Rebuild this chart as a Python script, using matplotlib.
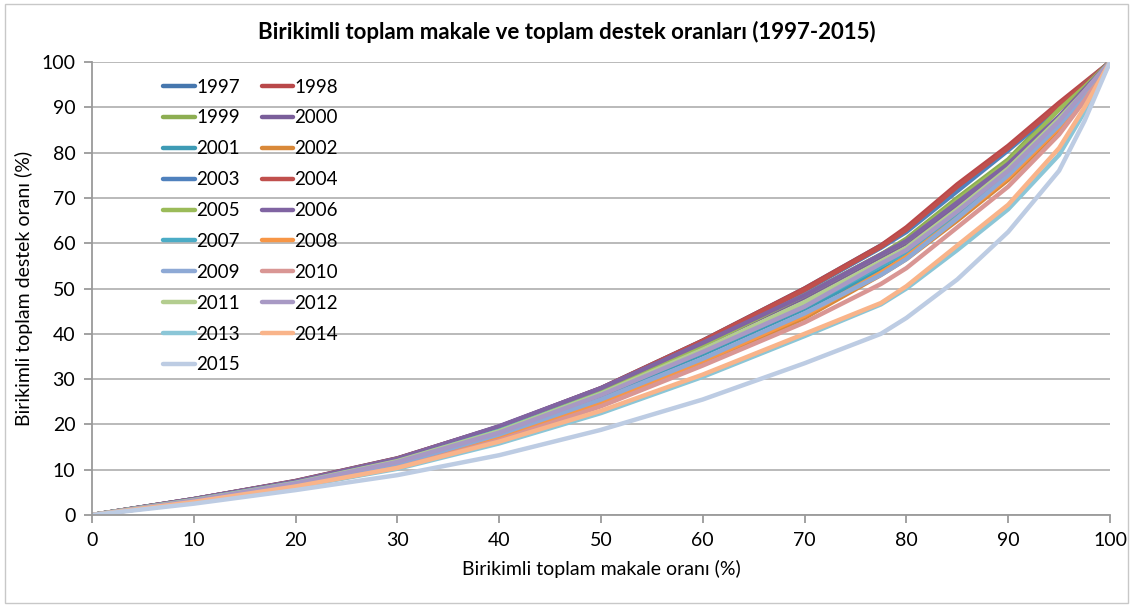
import matplotlib
matplotlib.use("Agg")
import matplotlib.pyplot as plt
from matplotlib.patches import Rectangle

plt.rcParams['font.family'] = ['Lato', 'DejaVu Sans']

# birikimli toplam makale orani (%)
x = [0, 10, 20, 30, 40, 50, 60, 70, 77.5, 80, 85, 90, 95, 97.5, 100]

years = [str(y) for y in range(1997, 2016)]

y1997 = [0, 3.5, 7.5, 12.5, 19.5, 28.0, 38.5, 50.0, 59.5, 63.0, 72.0, 81.0, 90.5, 95.0, 100]
y1998 = [0, 3.5, 7.5, 12.5, 19.5, 28.0, 38.5, 50.0, 59.5, 63.5, 73.0, 81.5, 91.0, 95.5, 100]
y1999 = [0, 3.4, 7.3, 12.2, 19.0, 27.5, 37.5, 48.5, 57.5, 61.0, 70.0, 78.5, 90.0, 95.0, 100]
y2000 = [0, 3.4, 7.3, 12.2, 19.3, 27.7, 37.5, 48.0, 57.0, 60.0, 68.5, 77.0, 87.5, 93.5, 100]
y2001 = [0, 3.2, 7.0, 11.5, 18.3, 26.3, 35.5, 45.5, 54.0, 57.0, 65.5, 74.5, 85.5, 92.5, 100]
y2002 = [0, 3.0, 6.5, 10.8, 17.0, 24.5, 33.5, 43.5, 53.0, 56.5, 65.0, 74.0, 85.0, 92.0, 100]
y2003 = [0, 3.5, 7.4, 12.4, 19.3, 27.8, 38.3, 49.5, 59.0, 62.5, 71.5, 80.5, 90.0, 95.0, 100]
y2004 = [0, 3.5, 7.4, 12.4, 19.4, 27.9, 38.4, 49.7, 59.2, 63.0, 72.5, 81.0, 90.5, 95.0, 100]
y2005 = [0, 3.4, 7.3, 12.3, 19.1, 27.5, 37.5, 48.5, 57.5, 60.5, 69.5, 78.0, 89.5, 94.5, 100]
y2006 = [0, 3.5, 7.4, 12.4, 19.6, 28.0, 38.0, 48.5, 57.5, 60.5, 69.0, 77.5, 88.0, 94.0, 100]
y2007 = [0, 3.3, 7.1, 11.8, 18.6, 26.8, 36.0, 46.0, 55.0, 58.0, 66.5, 75.5, 86.5, 93.0, 100]
y2008 = [0, 3.0, 6.6, 11.0, 17.3, 24.8, 34.0, 44.0, 53.5, 57.0, 65.5, 74.5, 85.5, 92.5, 100]
y2009 = [0, 3.1, 6.8, 11.2, 17.8, 25.5, 34.5, 44.5, 53.0, 56.5, 65.5, 75.0, 86.0, 92.5, 100]
y2010 = [0, 2.8, 6.2, 10.4, 16.5, 24.0, 33.0, 42.5, 51.0, 54.5, 63.5, 72.5, 84.0, 91.5, 100]
y2011 = [0, 3.3, 7.1, 11.9, 18.5, 26.8, 36.5, 47.0, 56.0, 59.0, 67.5, 76.5, 87.5, 93.5, 100]
y2012 = [0, 3.2, 7.0, 11.7, 18.2, 26.5, 36.0, 46.0, 55.5, 58.5, 67.0, 76.0, 87.0, 93.5, 100]
y2013 = [0, 2.8, 6.2, 10.2, 15.8, 22.5, 30.5, 39.5, 46.5, 50.0, 58.5, 67.5, 79.5, 89.0, 100]
y2014 = [0, 2.9, 6.3, 10.4, 16.2, 23.0, 31.0, 40.0, 46.8, 50.5, 59.5, 68.5, 81.0, 90.0, 100]
y2015 = [0, 2.5, 5.5, 8.8, 13.2, 18.8, 25.5, 33.5, 40.0, 43.5, 52.0, 62.5, 76.0, 87.0, 100]

series = [y1997, y1998, y1999, y2000, y2001, y2002, y2003, y2004, y2005, y2006,
          y2007, y2008, y2009, y2010, y2011, y2012, y2013, y2014, y2015]

colors = ['#4677AE', '#B9484A', '#8DAE52', '#7A5E9A', '#3E9BB5', '#D98939',
          '#4F81BD', '#C0504D', '#9BBB59', '#8064A2', '#4BACC6', '#F79646',
          '#8EA9D5', '#D99694', '#B3CD8F', '#A899C4', '#8BC6D7', '#F9B48A',
          '#BDCCE3']

fig = plt.figure(figsize=(11.33, 6.05), dpi=100)
fig.patches.append(Rectangle((0.004, 0.003), 0.992, 0.99, transform=fig.transFigure,
                             fill=False, edgecolor='#c8c8c8', lw=1))
ax = fig.add_axes([92/1133, 90/605, 1018/1133, 453/605])

lines = []
for yr, yv, c in zip(years, series, colors):
    ln, = ax.plot(x, yv, color=c, lw=3.2, label=yr, solid_capstyle='round')
    lines.append(ln)

ax.set_xlim(0, 100)
ax.set_ylim(0, 100)
ax.set_xticks(range(0, 101, 10))
ax.set_yticks(range(0, 101, 10))
ax.grid(axis='y', color='#b4b4b4', lw=1.3)
ax.set_axisbelow(True)
for s in ['top', 'right']:
    ax.spines[s].set_visible(False)
for s in ['left', 'bottom']:
    ax.spines[s].set_color('#9a9a9a')
    ax.spines[s].set_linewidth(1.3)
ax.tick_params(direction='out', length=6, color='#9a9a9a', width=1.3,
               labelsize=14, pad=6)

ax.set_xlabel('Birikimli toplam makale oranı (%)', fontsize=14, labelpad=8)
ax.set_ylabel('Birikimli toplam destek oranı (%)', fontsize=14, labelpad=6)
fig.text(0.5, 0.947, 'Birikimli toplam makale ve toplam destek oranları (1997-2015)',
         ha='center', va='center', fontsize=16, fontweight='bold')

# legend filled row by row like the original
order = list(range(0, 19, 2)) + list(range(1, 19, 2))
ax.legend([lines[i] for i in order], [years[i] for i in order], ncol=2,
          loc='upper left', bbox_to_anchor=(0.061, 0.984), frameon=False,
          fontsize=13.5, handlelength=1.7, handletextpad=0.05,
          columnspacing=1.15, labelspacing=0.74, borderpad=0)

plt.savefig('out.png', dpi=100)
